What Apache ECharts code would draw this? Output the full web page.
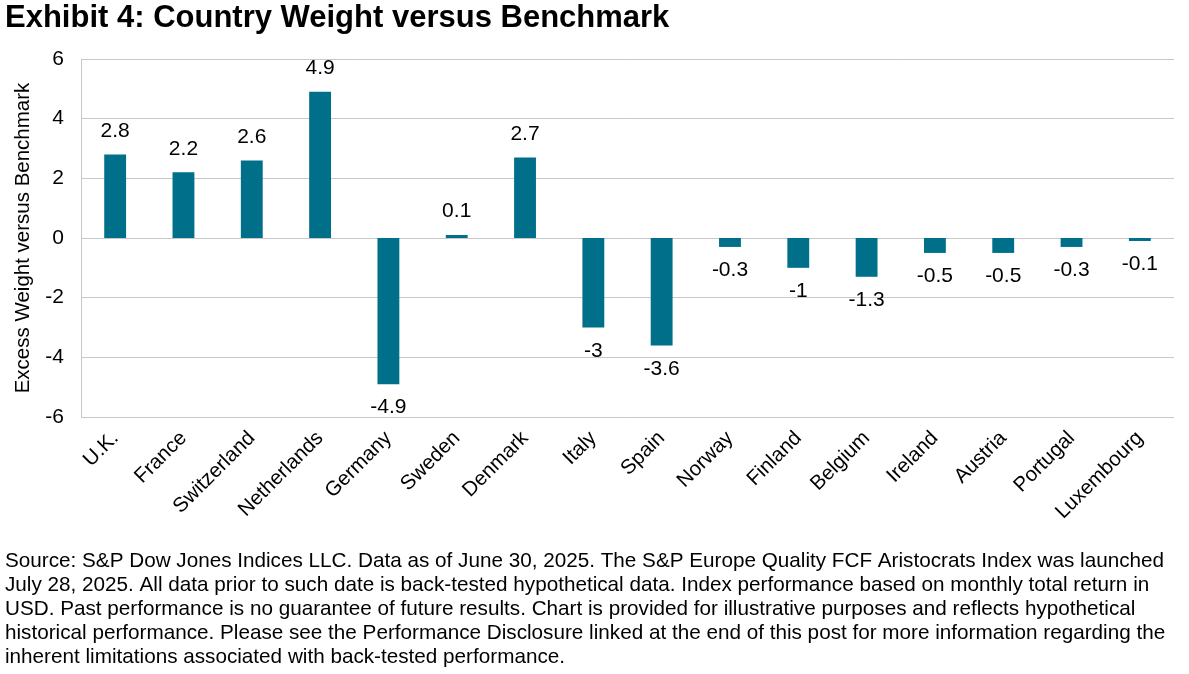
<!DOCTYPE html>
<html>
<head>
<meta charset="utf-8">
<script src="https://cdn.jsdelivr.net/npm/echarts@6/dist/echarts.min.js"></script>
<style>
html,body{margin:0;padding:0;background:#fff;}
#chart{width:1189px;height:674px;}
</style>
</head>
<body>
<div id="chart"></div>
<script>
const categories = ["U.K.","France","Switzerland","Netherlands","Germany","Sweden","Denmark","Italy","Spain","Norway","Finland","Belgium","Ireland","Austria","Portugal","Luxembourg"];
const excessWeight = [2.8,2.2,2.6,4.9,-4.9,0.1,2.7,-3,-3.6,-0.3,-1,-1.3,-0.5,-0.5,-0.3,-0.1];
const yTicks = {min:-6,max:6,interval:2};
const titleText = "Exhibit 4: Country Weight versus Benchmark";
const yAxisName = "Excess Weight versus Benchmark";
const footnoteLines = [
"Source: S&P Dow Jones Indices LLC. Data as of June 30, 2025. The S&P Europe Quality FCF Aristocrats Index was launched",
"July 28, 2025. All data prior to such date is back-tested hypothetical data. Index performance based on monthly total return in",
"USD. Past performance is no guarantee of future results. Chart is provided for illustrative purposes and reflects hypothetical",
"historical performance. Please see the Performance Disclosure linked at the end of this post for more information regarding the",
"inherent limitations associated with back-tested performance."
];

const FONT = "'Liberation Sans', Arial, sans-serif";
const chart = echarts.init(document.getElementById('chart'), null, {renderer:'canvas'});
chart.setOption({
  backgroundColor:'#fff',
  animation:false,
  textStyle:{fontFamily:FONT},
  graphic:[
    {type:'text', left:5, top:3, style:{text:titleText, font:"bold 31px "+FONT, fill:'#000'}},
    {type:'text', left:5, top:549, style:{text:footnoteLines.join('\n'), font:"20.7px "+FONT, lineHeight:24, fill:'#000'}}
  ],
  grid:{left:81, right:15, top:59, bottom:257, containLabel:false},
  xAxis:{
    type:'category', data:categories,
    axisLine:{show:false}, axisTick:{show:false},
    axisLabel:{rotate:45, fontSize:20.5, color:'#000', margin:18, interval:0, fontFamily:FONT}
  },
  yAxis:{
    type:'value', min:yTicks.min, max:yTicks.max, interval:yTicks.interval,
    name:yAxisName, nameLocation:'middle', nameGap:47,
    nameTextStyle:{fontSize:20.5, color:'#000', fontFamily:FONT},
    axisLine:{show:true, lineStyle:{color:'#c8c8c8', width:1}},
    axisTick:{show:false},
    axisLabel:{fontSize:21, color:'#000', margin:17, fontFamily:FONT},
    splitLine:{lineStyle:{color:'#c8c8c8', width:1}}
  },
  series:[{
    type:'bar', barWidth:'32%',
    data:excessWeight.map(v=>({value:v,label:{position:v<0?'bottom':'top'}})),
    itemStyle:{color:'#006F8A'},
    label:{show:true, fontSize:21, color:'#000', fontFamily:FONT, distance:13,
      formatter:p=>String(p.value)}
  }]
});
</script>
</body>
</html>
